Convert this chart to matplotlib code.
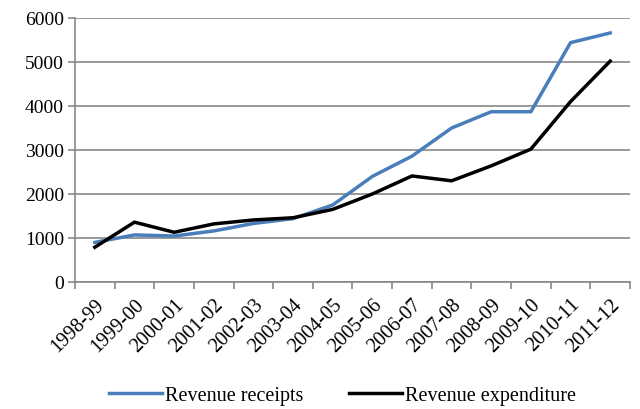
import matplotlib
matplotlib.use('Agg')
import matplotlib.pyplot as plt
import numpy as np

years = ['1998-99', '1999-00', '2000-01', '2001-02', '2002-03', '2003-04', '2004-05',
         '2005-06', '2006-07', '2007-08', '2008-09', '2009-10', '2010-11', '2011-12']
receipts = [900, 1070, 1045, 1160, 1330, 1440, 1750, 2400, 2860, 3500, 3870, 3870, 5440, 5660]
expenditure = [790, 1360, 1130, 1320, 1410, 1460, 1650, 2000, 2410, 2300, 2640, 3020, 4100, 5020]

plt.rcParams['font.family'] = ['Liberation Serif', 'DejaVu Serif']

fig = plt.figure(figsize=(6.4, 4.1), dpi=100)
ax = fig.add_axes([75/640, 1-283/410, 555/640, 264/410])

x = np.arange(len(years))
ax.plot(x, receipts, color='#4a7ebb', lw=2.5, label='Revenue receipts')
ax.plot(x, expenditure, color='black', lw=2.5, label='Revenue expenditure')

ax.set_xlim(-0.5, len(years)-0.5)
ax.set_ylim(0, 6000)
ax.set_yticks(range(0, 6001, 1000))
ax.yaxis.grid(True, color='#888888', lw=1.2)
ax.set_axisbelow(True)

ax.set_xticks(x)
ax.set_xticklabels(years, rotation=45, ha='right', rotation_mode='anchor', fontsize=14.5)
ax.set_xticks(np.arange(-0.5, len(years), 1), minor=True)
ax.tick_params(axis='x', which='major', length=0, pad=9)
ax.tick_params(axis='x', which='minor', length=5, color='#888888', width=1.2)
ax.tick_params(axis='y', length=5, color='#888888', width=1.2, labelsize=14, pad=3)

for s in ['top', 'right']:
    ax.spines[s].set_visible(False)
for s in ['left', 'bottom']:
    ax.spines[s].set_color('#888888')
    ax.spines[s].set_linewidth(1.2)

fig.legend(loc='lower center', ncol=2, frameon=False, fontsize=14.5,
           bbox_to_anchor=(0.535, -0.035), handlelength=2.6, handletextpad=0.15,
           columnspacing=2.3)

fig.savefig('out.png', dpi=100)
